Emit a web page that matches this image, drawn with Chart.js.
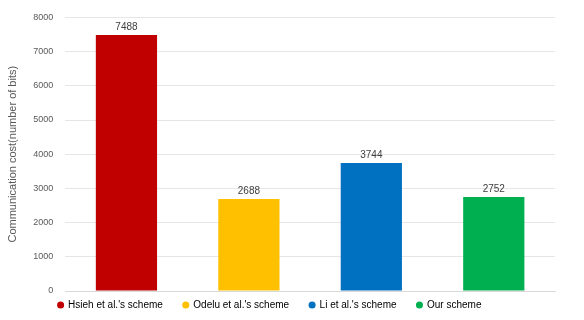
<!DOCTYPE html>
<html>
<head>
<meta charset="utf-8">
<script src="https://cdn.jsdelivr.net/npm/chart.js@4"></script>
<style>
  html, body { margin: 0; padding: 0; background: #fff; }
  #wrap { width: 584px; height: 320px; }
</style>
</head>
<body>
<div id="wrap"><canvas id="costChart" width="584" height="320"></canvas></div>
<script>
// Data
const schemes = ["Hsieh et al.'s scheme", "Odelu et al.'s scheme", "Li et al.'s scheme", "Our scheme"];
const costs = [7488, 2688, 3744, 2752];
const colors = ["#C00000", "#FFC000", "#0070C0", "#00B050"];
const yTicks = [0, 1000, 2000, 3000, 4000, 5000, 6000, 7000, 8000];

// draw value labels above bars
const valueLabels = {
    id: "valueLabels",
    afterDatasetsDraw(chart) {
        const ctx = chart.ctx;
        const meta = chart.getDatasetMeta(0);
        ctx.save();
        ctx.font = "10px 'Liberation Sans', Arial, sans-serif";
        ctx.fillStyle = "#404040";
        ctx.textAlign = "center";
        ctx.textBaseline = "bottom";
        meta.data.forEach((bar, i) => {
            ctx.fillText(String(costs[i]), bar.x, bar.y - 3);
        });
        ctx.restore();
    }
};

const ctx = document.getElementById("costChart").getContext("2d");
new Chart(ctx, {
    type: "bar",
    data: {
        labels: schemes,
        datasets: [{
            data: costs,
            backgroundColor: colors,
            borderWidth: 0,
            categoryPercentage: 1,
            barPercentage: 0.5,
        }],
    },
    options: {
        responsive: false,
        animation: false,
        layout: { padding: { top: 11, right: 29, left: 4, bottom: 0 } },
        plugins: {
            tooltip: { enabled: false },
            legend: {
                position: "bottom",
                labels: {
                    usePointStyle: true,
                    pointStyle: "circle",
                    boxWidth: 5,
                    boxHeight: 5,
                    padding: 1,
                    color: "#595959",
                    font: { size: 10, family: "'Liberation Sans', Arial, sans-serif" },
                    generateLabels(chart) {
                        return schemes.map((s, i) => ({
                            text: s + "       ",
                            fillStyle: colors[i],
                            strokeStyle: colors[i],
                            lineWidth: 0,
                            pointStyle: "circle",
                            hidden: false,
                            index: i,
                        }));
                    },
                },
            },
        },
        scales: {
            x: {
                ticks: { display: false },
                grid: { display: false },
                border: { display: true, color: "#d9d9d9" },
            },
            y: {
                min: 0,
                max: 8000,
                afterBuildTicks(axis) {
                    axis.ticks = yTicks.map(v => ({ value: v }));
                },
                ticks: {
                    color: "#595959",
                    padding: 12,
                    font: { size: 9, family: "'Liberation Sans', Arial, sans-serif" },
                    callback: v => String(v),
                },
                grid: { color: "#e6e6e6", drawTicks: false },
                border: { display: false },
                title: {
                    display: true,
                    text: "Communication cost(number of bits)",
                    color: "#595959",
                    font: { size: 11, family: "'Liberation Sans', Arial, sans-serif" },
                    padding: 2,
                },
            },
        },
    },
    plugins: [valueLabels],
});
</script>
</body>
</html>
